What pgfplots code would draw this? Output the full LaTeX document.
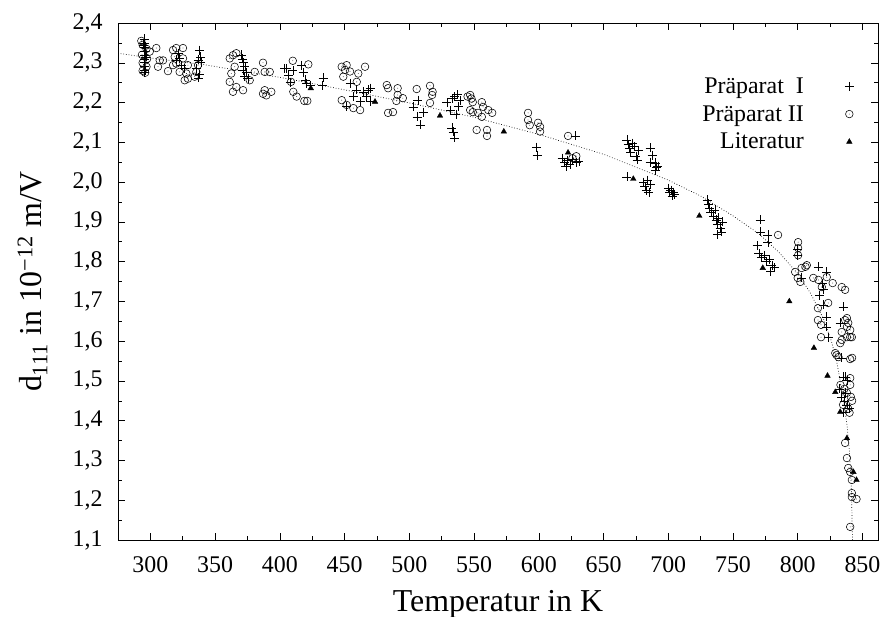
\documentclass[border=0pt]{standalone}
\usepackage{pgfplots}
\pgfplotsset{compat=1.18}
\usepackage{fontspec}
\setmainfont{Liberation Serif}
\pgfdeclareplotmark{odot}{%
  \pgfpathcircle{\pgfpoint{0pt}{0pt}}{\pgfplotmarksize}\pgfusepathqstroke
  \pgfpathcircle{\pgfpoint{0pt}{0pt}}{0.4pt}\pgfusepathqfill}
\begin{document}
\begin{tikzpicture}
\useasboundingbox (0,0) rectangle (889bp,617bp);
\begin{axis}[
  at={(118bp,77bp)}, anchor=south west,
  scale only axis, width=760bp, height=517bp,
  xmin=275, xmax=862, ymin=1.1, ymax=2.4,
  xtick={300,350,...,850}, minor x tick num=1,
  ytick={1.1,1.2,...,2.41}, minor y tick num=1,
  tick align=inside, major tick length=7bp, minor tick length=4bp,
  tick style={line width=0.5pt, black},
  axis line style={line width=0.6pt},
  /pgf/number format/assume math mode=true,
  yticklabel style={/pgf/number format/use comma, /pgf/number format/fixed,
    /pgf/number format/fixed zerofill, /pgf/number format/precision=1, xshift=-12bp},
  xticklabel style={/pgf/number format/1000 sep={}, yshift=-13.5bp},
  ticklabel style={font=\fontsize{24}{24}\selectfont},
  xlabel={Temperatur in K},
  ylabel={d\textsubscript{111} in 10\textsuperscript{−12} m/V},
  label style={font=\fontsize{32}{32}\selectfont},
  xlabel style={at={(axis description cs:0.5,-0.1248)}, anchor=center},
  ylabel style={at={(axis description cs:-0.1125,0.5)}, anchor=center},
  legend plot pos=right,
  legend cell align=right,
  legend style={draw=none, fill=none, at={(0.9724,0.902)}, anchor=north east,
    font=\fontsize{24}{24}\selectfont, row sep=6.5bp, column sep=39bp},
]
\addplot[only marks, mark=+, mark size=4.5bp, line width=0.55pt] coordinates {
(295.5,2.36) (295.5,2.35) (295.7,2.34) (295.5,2.33) (295.8,2.32) (295.5,2.31) (295.6,2.30) (295.4,2.29) (295.7,2.28) (295.5,2.275) (294.5,2.345) (296.5,2.315)
(321.4,2.324) (322.6,2.311) (323.9,2.294) (326.5,2.286) (320,2.307)
(338,2.332) (338.9,2.315) (336.8,2.307) (335.5,2.286) (339,2.30) (338,2.27) (337,2.262)
(370.5,2.32) (371,2.31) (372,2.30) (373,2.29) (371.5,2.28) (374,2.275) (372.9,2.265) (375.4,2.26)
(403.7,2.286)
(405.3,2.286) (416.8,2.294) (406.6,2.269) (419.5,2.257) (420.8,2.248) (423.3,2.244) (410,2.28) (408,2.25) (418,2.275)
(433.4,2.262) (432.6,2.244)
(454.2,2.248) (459.4,2.232) (464.5,2.227) (468.4,2.232) (467.1,2.215) (469.7,2.236) (456.8,2.215) (462,2.202) (469.7,2.202) (451.6,2.19)
(506.7,2.206) (502.9,2.189) (510.6,2.176) (506,2.164) (508.3,2.144)
(531.5,2.181) (529,2.20) (533,2.21) (535,2.215) (537,2.22) (539,2.205) (532.8,2.136) (535,2.111) (533.8,2.126) (536,2.17) (538,2.19)
(598.4,2.088) (598.7,2.068)
(618,2.06) (620,2.05) (622,2.055) (624,2.045) (626,2.058) (628,2.116) (629,2.05) (631,2.052) (621,2.04)
(668,2.106) (669,2.095) (670,2.085) (671,2.075) (672,2.098) (674,2.09) (675,2.065) (676,2.056) (677,2.08) (668,2.013)
(681,2.0) (682,1.99) (683,1.98) (684,2.005) (685,1.975) (686,1.995)
(686,2.086) (687.5,2.068) (686,2.05) (689.8,2.048) (691,2.038) (690,2.03) (692,2.04)
(700,1.985) (701,1.975) (702,1.98) (703,1.965) (704,1.975) (705,1.97)
(730,1.955) (731,1.945) (732,1.935) (733,1.925) (735,1.915) (736,1.93) (737,1.905) (738,1.895) (739,1.91) (740,1.885) (741,1.875) (742,1.9) (738,1.868)
(771,1.905) (771,1.875) (777,1.867) (777,1.849) (768.6,1.84) (770,1.82) (772,1.81) (774,1.815) (776,1.80) (778,1.805) (780,1.79) (782,1.785) (779,1.775)
(800,1.83) (800,1.815) (803,1.759)
(816,1.787) (822.4,1.774) (817,1.716) (819.6,1.691) (820,1.73) (819,1.745) (822.4,1.661) (822.4,1.636) (823.5,1.61) (835,1.686) (832.8,1.646)
(835,1.51) (836.6,1.51) (838,1.502) (833.8,1.558)
(832,1.48) (834,1.46) (836,1.45) (838,1.44) (840,1.43) (835,1.42) (837,1.47)
};
\addlegendentry{Präparat\ \ I}
\addplot[only marks, mark=odot, mark size=3.8bp, line width=0.55pt] coordinates {
(293,2.355) (294,2.345) (297,2.335) (293.5,2.32) (297.5,2.31) (294,2.30) (297,2.29) (294,2.28) (296,2.275) (299.5,2.328)
(304.6,2.337) (307.2,2.306) (309.8,2.306) (305.9,2.290) (313.6,2.279)
(317.5,2.332) (320,2.337) (325.2,2.337) (318.8,2.315) (325.2,2.311) (317.5,2.294) (322.6,2.277) (327.8,2.273) (326.5,2.256) (329,2.294) (320,2.298)
(336.8,2.294) (335.5,2.277) (334.2,2.265) (329,2.26)
(361.3,2.311) (363.8,2.319) (366.4,2.324) (361.3,2.252) (363.8,2.227) (371.6,2.231) (366.4,2.239) (362.5,2.273) (365.1,2.29) (376.7,2.256) (380.6,2.277)
(387,2.3) (388.3,2.277) (392.2,2.277) (388.3,2.231) (389.6,2.218) (393.4,2.227) (387,2.222)
(410,2.305) (422,2.296) (408.6,2.252) (410.4,2.227) (413,2.215) (418.9,2.204) (421.2,2.204)
(447.8,2.29) (450.4,2.282) (451.6,2.294) (449,2.265) (454.2,2.278) (460.6,2.273) (447.8,2.206) (451.6,2.194) (456.8,2.186) (462,2.181) (465.8,2.29) (459.4,2.252)
(482.6,2.244) (483.6,2.236) (491,2.236) (491,2.219) (490,2.204) (495,2.211) (483.6,2.174) (487.4,2.176)
(505.7,2.234) (516,2.242) (518,2.227) (517.6,2.219) (516,2.199)
(547,2.219) (549,2.201) (547,2.181) (549,2.176) (556,2.201) (553,2.174) (557,2.189) (561,2.181) (564,2.174) (556,2.164) (545,2.215) (548,2.21)
(552,2.131) (560,2.131) (560,2.116)
(591.7,2.174) (591.7,2.156) (593,2.143) (599.4,2.149) (601,2.139) (601,2.127)
(622.6,2.116) (626,2.06) (629,2.065)
(784.8,1.867) (800.3,1.849) (800.3,1.834) (800.3,1.816)
(798,1.774) (803,1.784) (807,1.791) (802,1.749) (812,1.759) (816,1.754) (818.6,1.736) (822.4,1.761) (827,1.746) (834,1.736) (836.6,1.729) (806,1.787) (800,1.759)
(815.6,1.683) (823.5,1.696) (815.6,1.653) (818,1.641) (836.6,1.653) (838,1.636) (840.5,1.628) (834,1.623) (838,1.61) (832.8,1.595) (840.5,1.61) (818,1.61) (841.8,1.61) (834,1.603) (839,1.646) (838,1.658)
(829,1.57) (831.5,1.56) (842,1.558) (830,1.565) (840.5,1.555)
(840.5,1.507) (840.5,1.49) (833,1.49) (836,1.48) (838,1.47) (841,1.46) (835,1.44) (839,1.43) (842,1.45) (840,1.42)
(836.6,1.344) (838,1.306) (839,1.281) (840.5,1.271) (841.8,1.251) (841.8,1.218) (841.8,1.208) (845.4,1.203) (840.5,1.133)
};
\addlegendentry{Präparat II}
\addplot[only marks, mark=triangle*, mark size=3.2bp] coordinates {
(423.9,2.236) (473.5,2.202) (523.7,2.167) (573,2.127) (622.6,2.074) (673,2.008) (724,1.915) (773,1.784)
(793.5,1.70) (812.5,1.583) (823,1.513) (829,1.472) (832.8,1.422) (838,1.356) (843,1.271) (845.4,1.251)
};
\addlegendentry{Literatur}
\addplot[dotted, line width=0.7pt, forget plot] coordinates {
(275,2.324) (300,2.312) (342,2.295) (404,2.261) (450,2.232) (500,2.199) (550,2.163) (600,2.12) (650,2.07)
(700,2.005) (725,1.965) (750,1.915) (770,1.87) (785,1.825) (800,1.77) (810,1.72) (820,1.655) (826,1.60)
(830,1.55) (835,1.46) (838,1.39) (840,1.32) (841.5,1.22) (842.3,1.1)
};
\end{axis}
\end{tikzpicture}
\end{document}
